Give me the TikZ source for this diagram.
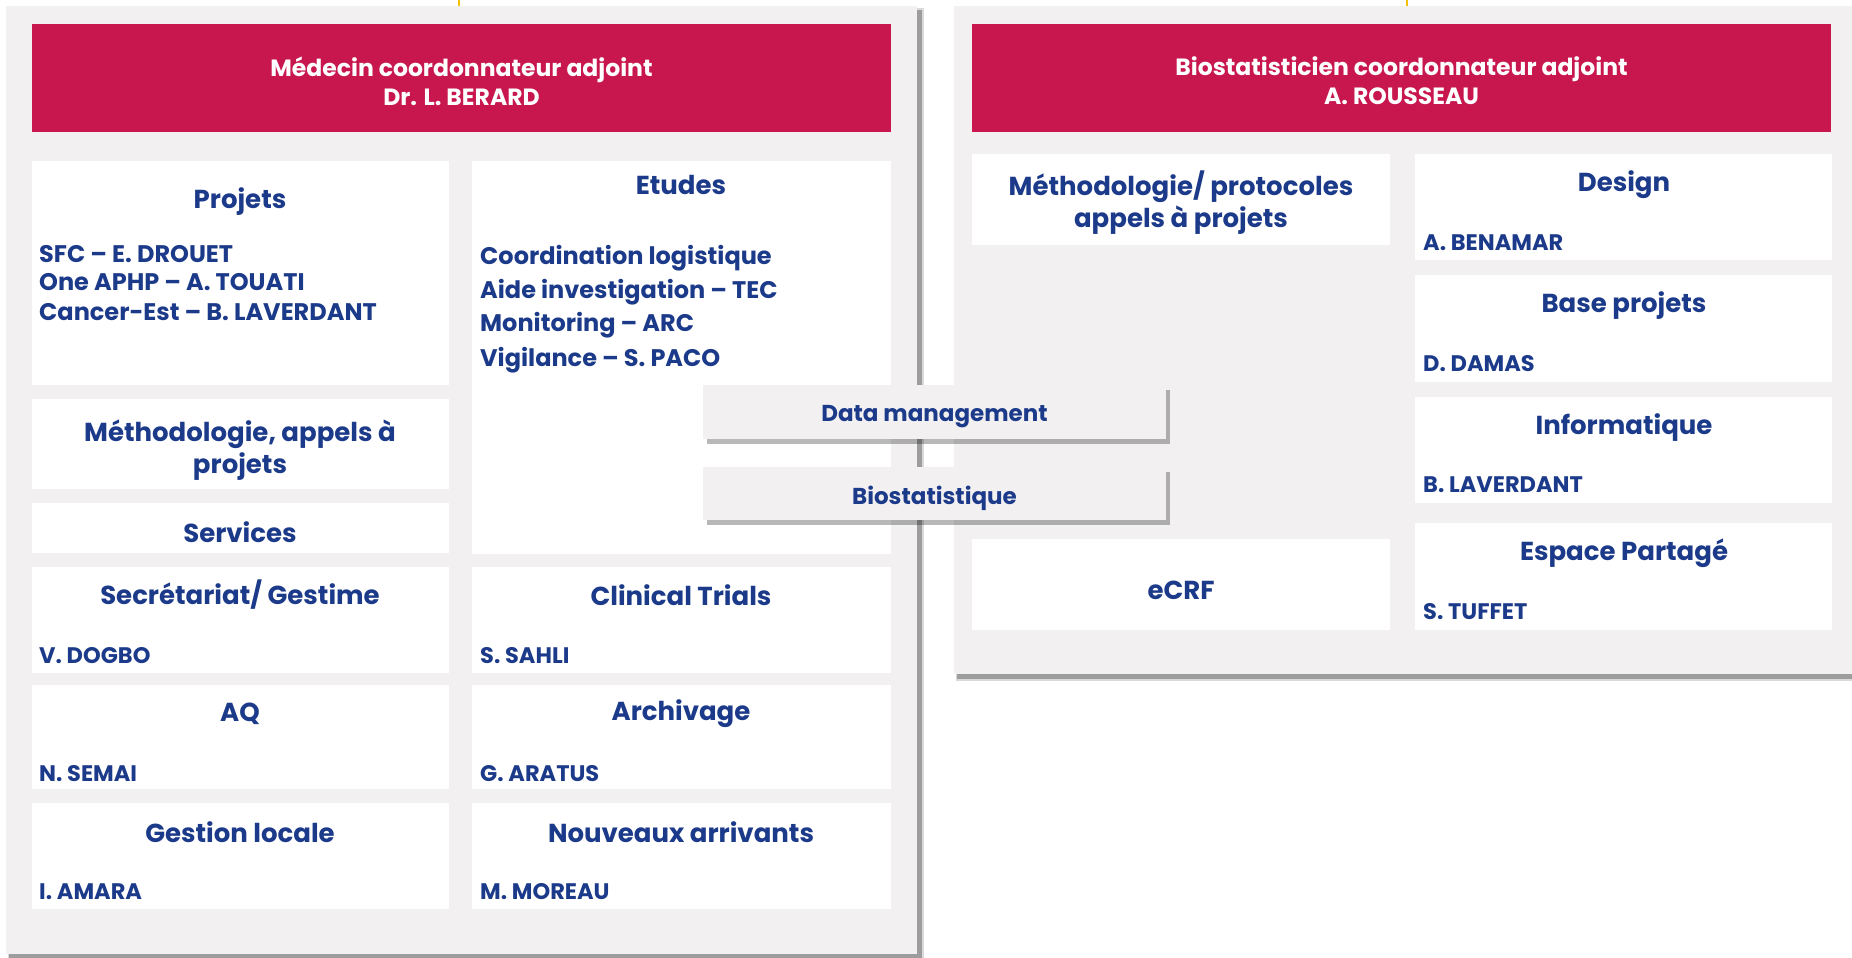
\documentclass[tikz,border=0pt]{standalone}
\usepackage{fontspec}
\setmainfont{Poppins}
\usetikzlibrary{calc}
\definecolor{hdr}{HTML}{C8174F}
\definecolor{txt}{HTML}{1C3A8A}
\definecolor{panelc}{HTML}{F2F0F1}
\definecolor{gold}{HTML}{F2C200}
\tikzset{
  panelbox/.style={fill=panelc, draw=none, inner sep=0, outer sep=0, anchor=north west},
  card/.style={fill=white, draw=none, inner sep=0, outer sep=0, anchor=north west},
  hdrbox/.style={fill=hdr, draw=none, inner sep=0, outer sep=0, anchor=north west},
  floatbox/.style={fill=panelc, draw=none, inner sep=0, outer sep=0, anchor=north west},
  shade/.style={fill=black, opacity=0.28, draw=none},
  hdrtxt/.style={text=white, font=\fontsize{23.5}{29}\selectfont\bfseries, align=center, inner sep=0},
  ttl/.style={text=txt, font=\fontsize{26}{32}\selectfont\bfseries, align=center, inner sep=0},
  lst/.style={text=txt, font=\fontsize{24}{29}\selectfont\bfseries, align=left, anchor=west, inner sep=0},
  nm/.style={text=txt, font=\fontsize{22.5}{24}\selectfont\bfseries, anchor=west, inner sep=0},
  fl/.style={text=txt, font=\fontsize{23}{26}\selectfont\bfseries, inner sep=0},
  link/.style={draw=gold, line width=2pt}
}
\newcommand\mkbox[6]{\node[#1, minimum width={#5-#3}, minimum height={#6-#4}] (#2) at (#3,#4) {};}
\begin{document}
\begin{tikzpicture}[x=1pt,y=-1pt]
\useasboundingbox (0,0) rectangle (1852,958);
% panels with shadows
\fill[shade] (9,10) rectangle (922,960);
\fill[shade,opacity=0.15] (8,8) rectangle (924,962);
\mkbox{panelbox}{lp}{6}{6}{917}{954}
\fill[shade] (957,10) rectangle (1870,679);
\fill[shade,opacity=0.15] (956,8) rectangle (1872,681);
\mkbox{panelbox}{rp}{954}{6}{1862}{674}
% connectors from above
\coordinate (ltop) at (459,0);
\coordinate (rtop) at (1407,0);
\draw[link] (ltop) -- (ltop |- lp.north);
\draw[link] (rtop) -- (rtop |- rp.north);
% left header
\mkbox{hdrbox}{lh}{32}{24}{891}{132}
\node[hdrtxt] (lht) at ($(lh.center)+(0,3)$) {Médecin coordonnateur adjoint\\Dr. L. BERARD};
% left cards
\mkbox{card}{proj}{32}{161}{449}{385}
\node[ttl] (projt) at (240,202) {Projets};
\node[lst] (proj1) at (39,254) {SFC – E. DROUET};
\node[lst] (proj2) at (39,282) {One APHP – A. TOUATI};
\node[lst] (proj3) at (39,312) {Cancer-Est – B. LAVERDANT};
\mkbox{card}{etu}{472}{161}{891}{554}
\node[ttl] (etut) at (681,185) {Etudes};
\node[lst] (etu1) at (480,258) {Coordination logistique};
\node[lst] (etu2) at (480,292) {Aide investigation – TEC};
\node[lst] (etu3) at (480,325) {Monitoring – ARC};
\node[lst] (etu4) at (480,360) {Vigilance – S. PACO};
\mkbox{card}{meth}{32}{399}{449}{489}
\node[ttl] (metht) at (240,450) {Méthodologie, appels à\\projets};
\mkbox{card}{serv}{32}{503}{449}{553}
\node[ttl] (servt) at (240,532) {Services};
\mkbox{card}{secr}{32}{567}{449}{673}
\node[ttl] (secrt) at (240,595) {Secrétariat/ Gestime};
\node[nm] (secrn) at (39,656) {V. DOGBO};
\mkbox{card}{clin}{472}{567}{891}{673}
\node[ttl] (clint) at (681,595) {Clinical Trials};
\node[nm] (clinn) at (480,656) {S. SAHLI};
\mkbox{card}{aq}{32}{685}{449}{789}
\node[ttl] (aqt) at (240,714) {AQ};
\node[nm] (aqn) at (39,774) {N. SEMAI};
\mkbox{card}{arch}{472}{685}{891}{789}
\node[ttl] (archt) at (681,714) {Archivage};
\node[nm] (archn) at (480,774) {G. ARATUS};
\mkbox{card}{gest}{32}{803}{449}{909}
\node[ttl] (gestt) at (240,832) {Gestion locale};
\node[nm] (gestn) at (39,892) {I. AMARA};
\mkbox{card}{nouv}{472}{803}{891}{909}
\node[ttl] (nouvt) at (681,832) {Nouveaux arrivants};
\node[nm] (nouvn) at (480,892) {M. MOREAU};
% right header
\mkbox{hdrbox}{rh}{972}{24}{1831}{132}
\node[hdrtxt] (rht) at ($(rh.center)+(0,3)$) {Biostatisticien coordonnateur adjoint\\A. ROUSSEAU};
% right cards
\mkbox{card}{mp}{972}{154}{1390}{245}
\node[ttl] (mpt) at (1181,203) {Méthodologie/ protocoles\\appels à projets};
\mkbox{card}{des}{1415}{154}{1832}{260}
\node[ttl] (dest) at (1624,185) {Design};
\node[nm] (desn) at (1423,243) {A. BENAMAR};
\mkbox{card}{bp}{1415}{275}{1832}{382}
\node[ttl] (bpt) at (1624,306) {Base projets};
\node[nm] (bpn) at (1423,364) {D. DAMAS};
\mkbox{card}{inf}{1415}{397}{1832}{503}
\node[ttl] (inft) at (1624,428) {Informatique};
\node[nm] (infn) at (1423,485) {B. LAVERDANT};
\mkbox{card}{esp}{1415}{523}{1832}{630}
\node[ttl] (espt) at (1624,553) {Espace Partagé};
\node[nm] (espn) at (1423,612) {S. TUFFET};
\mkbox{card}{ecrf}{972}{539}{1390}{630}
\node[ttl] (ecrft) at (1181,590) {eCRF};
% floating boxes
\fill[shade] (707,390) rectangle (1170,444);
\mkbox{floatbox}{dm}{703}{385}{1166}{439}
\node[fl] (dmt) at ($(dm.center)+(0,5)$) {Data management};
\fill[shade] (707,472) rectangle (1170,525);
\mkbox{floatbox}{bio}{703}{467}{1166}{520}
\node[fl] (biot) at ($(bio.center)+(0,5)$) {Biostatistique};
\end{tikzpicture}
\end{document}
